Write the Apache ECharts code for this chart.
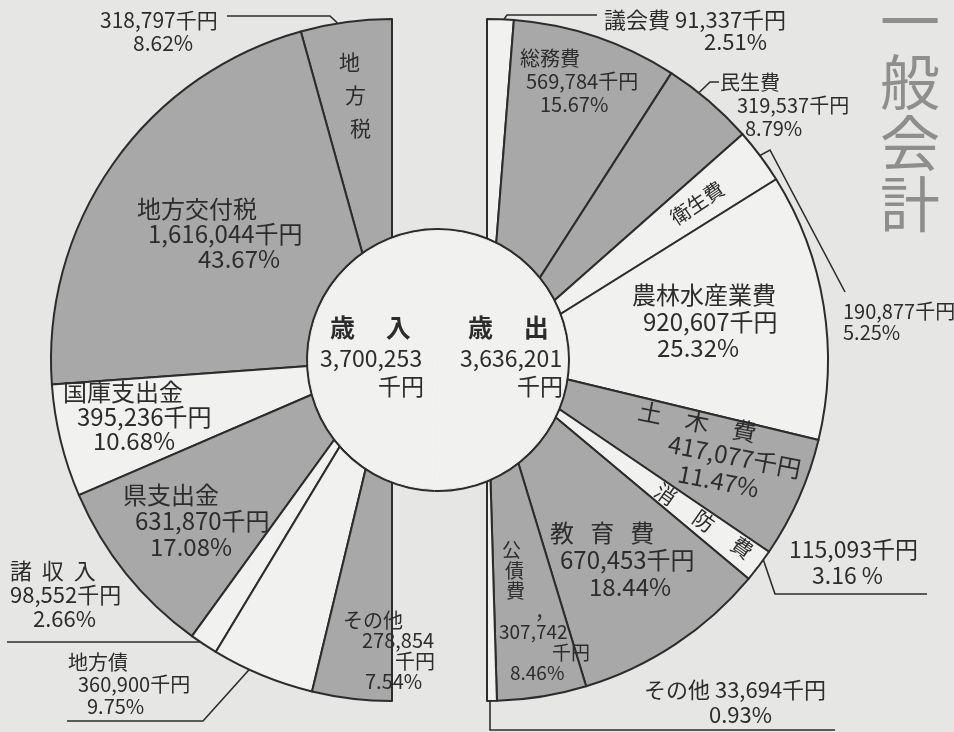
<!DOCTYPE html>
<html><head><meta charset="utf-8">
<script src="https://cdn.jsdelivr.net/npm/echarts@6/dist/echarts.min.js"></script>
<style>html,body{margin:0;padding:0;background:#e6e6e4}#c{width:954px;height:732px}</style>
</head><body><div id="c"></div>
<script>
// ---- data ----
const revenueNames = ['地方税', '地方交付税', '国庫支出金', '県支出金', '諸収入', '地方債', 'その他'];
const revenueValues = [318797, 1616044, 395236, 631870, 98552, 360900, 278854];
const revenuePercents = ['8.62%', '43.67%', '10.68%', '17.08%', '2.66%', '9.75%', '7.54%'];
const expenseNames = ['議会費', '総務費', '民生費', '衛生費', '農林水産業費', '土木費', '消防費', '教育費', '公債費', 'その他'];
const expenseValues = [91337, 569784, 319537, 190877, 920607, 417077, 115093, 670453, 307742, 33694];
const expensePercents = ['2.51%', '15.67%', '8.79%', '5.25%', '25.32%', '11.47%', '3.16 %', '18.44%', '8.46%', '0.93%'];
const totalTitles = ['歳入', '歳出'];
const totals = [3700253, 3636201];
const UNIT = '千円';
const TITLE = '一般会計';

// ---- styles ----
const FONT = '"Noto Sans CJK JP", "Noto Sans", sans-serif';
const INK = '#2c2c2c';
const GRAY = '#a8a8a8', WHITE = '#f1f1ef', BG = '#e6e6e4';
const revenueShade = ['g', 'g', 'w', 'g', 'w', 'w', 'g'];
const expenseShade = ['w', 'g', 'g', 'w', 'w', 'g', 'w', 'g', 'g', 'w'];

// ---- label layout (positions only) ----
const revLabelA = [
  {lines: ['C0', 'C1', 'C2'], x: 339, y: 46, fs: 21, lh: 33, off: [0, 6, 11]},
  {lines: ['N', 'V', 'P'], x: 137, y: 196.5, fs: 24, lh: 25, off: [0, 11, 61]},
  {lines: ['N', 'V', 'P'], x: 63, y: 380, fs: 24, lh: 24.5, off: [0, 14, 30]},
  {lines: ['N', 'V', 'P'], x: 123, y: 482, fs: 24, lh: 26, off: [0, 12, 27]},
  {lines: ['N', 'V', 'P'], x: 10, y: 559, fs: 22, lh: 24, off: [0, 0, 23], sep: '  ', leader: [[7, 642], [100, 642], [203, 642]]},
  {lines: ['N', 'V', 'P'], x: 68, y: 651, fs: 20, lh: 22, off: [0, 10, 19], leader: [[67, 721], [203, 721], [265, 652]]},
  {lines: ['N', 'D', 'U', 'P'], x: 343, y: 610, fs: 20, lh: 20.5, off: [0, 19, 52, 22]}
];
const revLabelB = [
  {lines: ['V', 'P'], x: 100, y: 9, fs: 21, lh: 23, off: [0, 33], leader: [[227, 16], [330, 16], [350, 35]]},
  null, null, null, null, null, null
];
const expLabelA = [
  {lines: ['NV', 'P'], x: 604, y: 9, fs: 22, lh: 22, off: [0, 100], leader: [[597, 15], [507, 15], [495, 32]]},
  {lines: ['N', 'V', 'P'], x: 520, y: 46.5, fs: 20, lh: 23, off: [0, 6, 20]},
  {lines: ['N', 'V', 'P'], x: 720, y: 70.5, fs: 20, lh: 23, off: [0, 17, 25], leader: [[719, 82], [710, 82], [679, 112]]},
  {lines: ['N'], x: 697, y: 203, fs: 20, lh: 22, align: 'center', va: 'middle', rot: 34},
  {lines: ['N', 'V', 'P'], x: 632, y: 281.75, fs: 24, lh: 26.5, off: [0, 11, 25]},
  {lines: ['N', 'V', 'P'], x: 641, y: 397, fs: 24, lh: 27, off: [0, 36, 51], rot: -11, sep: '　'},
  {lines: ['N'], x: 704, y: 521, fs: 21, lh: 22, align: 'center', va: 'middle', rot: -35, sep: '　 '},
  {lines: ['N', 'V', 'P'], x: 550, y: 519.5, fs: 24, lh: 27, off: [0, 10, 39], sep: '   '},
  {lines: ['C0', 'C1', 'C2', ',', 'D', 'U', 'P'], x: 499, y: 540, fs: 19, lh: 20.5, off: [3, 6, 7, 36, 0, 53, 11]},
  {lines: ['NV', 'P'], x: 644, y: 677.5, fs: 22, lh: 25, off: [0, 65], leader: [[490, 697], [490, 730], [835, 730]]}
];
const expLabelB = [null, null, null,
  {lines: ['V', 'P'], x: 843, y: 300.5, fs: 20, lh: 21, off: [0, 0], leader: [[748, 162], [770, 150], [845, 292]]},
  null, null,
  {lines: ['V', 'P'], x: 789, y: 536, fs: 23, lh: 26, off: [0, 23], leader: [[760, 550], [775, 594], [927, 594]]},
  null, null, null];
const innerLabel = [
  {lines: ['N', 'D', 'U'], x: 320, y: 311, fs: [25, 23, 23], lh: [32, 30, 26], off: [10, 0, 58], bold: [true, false, false], sep: '　 '},
  {lines: ['N', 'D', 'U'], x: 460, y: 311, fs: [25, 23, 23], lh: [32, 30, 26], off: [8, 0, 57], bold: [true, false, false], sep: '　 '}
];

function fmt(n) { return n.toLocaleString('en-US'); }
function pick(v, j) { return Array.isArray(v) ? v[j] : v; }

function lineText(kind, i, src, sep) {
  const name = sep ? src.names[i].split('').join(sep) : src.names[i];
  if (kind === 'N') return name;
  if (kind === 'V') return fmt(src.values[i]) + UNIT;
  if (kind === 'P') return src.pcts[i];
  if (kind === 'NV') return name + ' ' + fmt(src.values[i]) + UNIT;
  if (kind === 'D') return fmt(src.values[i]);
  if (kind === 'U') return UNIT;
  if (kind === ',') return '，';
  if (kind[0] === 'C') return src.names[i].charAt(+kind.slice(1));
  return '';
}

function buildLabel(cfg, i, src) {
  if (!cfg) return {show: false};
  const rich = {};
  const parts = cfg.lines.map((k, j) => {
    const key = 't' + j;
    rich[key] = {
      fontSize: pick(cfg.fs, j), lineHeight: pick(cfg.lh, j), fontFamily: FONT, color: INK,
      fontWeight: (cfg.bold && cfg.bold[j]) ? 'bold' : 'normal',
      padding: [0, 0, 0, cfg.off ? cfg.off[j] : 0]
    };
    return '{' + key + '|' + lineText(k, i, src, cfg.sep) + '}';
  });
  return {show: true, position: 'outside', formatter: parts.join('\n'), rich: rich, overflow: 'none'};
}

function layoutFn(cfgs) {
  return function (p) {
    const c = cfgs[p.dataIndex];
    if (!c) return {};
    const o = {x: c.x, y: c.y, align: c.align || 'left', verticalAlign: c.va || 'top', rotate: c.rot || 0};
    if (c.leader) o.labelLinePoints = c.leader;
    return o;
  };
}

function buildData(src, shades, cfgs, transparent) {
  return src.values.map((v, i) => {
    const cfg = cfgs[i];
    return {
      name: src.names[i], value: v,
      itemStyle: transparent ? {color: 'rgba(0,0,0,0)', borderWidth: 0}
        : {color: shades[i] === 'g' ? GRAY : WHITE, borderColor: INK, borderWidth: 2},
      label: buildLabel(cfg, i, src),
      labelLine: {show: !!(cfg && cfg.leader), lineStyle: {color: INK, width: 1.6}}
    };
  });
}

const revSrc = {names: revenueNames, values: revenueValues, pcts: revenuePercents};
const expSrc = {names: expenseNames, values: expenseValues, pcts: expensePercents};
const totSrc = {names: totalTitles, values: totals, pcts: ['', '']};

const LEFT_C = [392, 360], RIGHT_C = [487, 360], INNER_C = [438, 360], R = 341;

function half(id, center, clockwise, endAngle, data, cfgs, silent) {
  return {
    type: 'pie', id: id, center: center, radius: [0, R], startAngle: 90, endAngle: endAngle,
    clockwise: clockwise, data: data, avoidLabelOverlap: false, silent: !!silent,
    emphasis: {disabled: true}, labelLayout: layoutFn(cfgs), animation: false
  };
}

const chart = echarts.init(document.getElementById('c'), null, {renderer: 'canvas'});
chart.setOption({
  backgroundColor: BG,
  animation: false,
  title: {
    text: TITLE.split('').join('\n'), left: 875, top: -14,
    textStyle: {fontFamily: FONT, fontSize: 60, lineHeight: 61, color: '#8e8e8e', fontWeight: 'normal'}
  },
  series: [
    half('rev', LEFT_C, false, 270, buildData(revSrc, revenueShade, revLabelA, false), revLabelA),
    half('exp', RIGHT_C, true, -90, buildData(expSrc, expenseShade, expLabelA, false), expLabelA),
    half('revB', LEFT_C, false, 270, buildData(revSrc, revenueShade, revLabelB, true), revLabelB, true),
    half('expB', RIGHT_C, true, -90, buildData(expSrc, expenseShade, expLabelB, true), expLabelB, true),
    {
      type: 'pie', id: 'ring', center: INNER_C, radius: [0, 132], silent: true, animation: false,
      emphasis: {disabled: true}, label: {show: false}, labelLine: {show: false},
      data: totals.map((v, i) => ({name: totalTitles[i], value: v, itemStyle: {color: INK, borderWidth: 0}}))
    },
    {
      type: 'pie', id: 'inner', center: INNER_C, radius: [0, 129.5], silent: true, animation: false,
      startAngle: 90, avoidLabelOverlap: false, emphasis: {disabled: true},
      labelLayout: layoutFn(innerLabel),
      data: totals.map((v, i) => ({
        name: totalTitles[i], value: v, itemStyle: {color: WHITE, borderColor: WHITE, borderWidth: 1},
        label: buildLabel(innerLabel[i], i, totSrc), labelLine: {show: false}
      }))
    }
  ]
});
</script>
</body></html>
